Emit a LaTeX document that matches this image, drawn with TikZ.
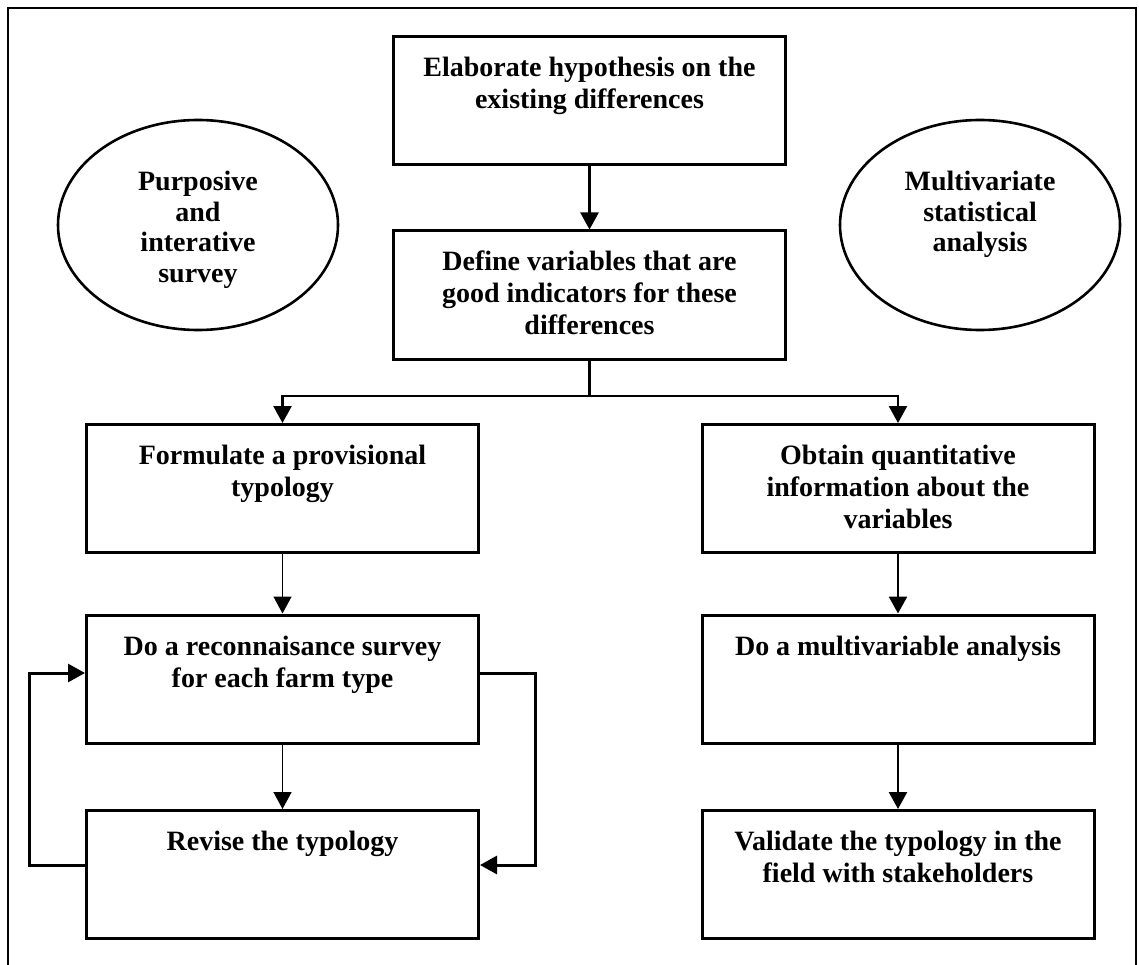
\documentclass[tikz,border=0pt]{standalone}
\usepackage{fontspec}
\setmainfont{Liberation Serif}
\usetikzlibrary{arrows.meta,shapes.geometric}
\newcommand\boxtxt[1]{\parbox[c][128pt][t]{385pt}{\centering\fontsize{28}{32}\selectfont\bfseries\rule{0pt}{40pt}#1}}
\begin{document}
\begin{tikzpicture}[x=1pt,y=-1pt,
  stepbox/.style={draw,line width=3pt,minimum width=392pt,minimum height=128pt,inner sep=0pt},
  ell/.style={draw,ellipse,line width=2.6pt,minimum width=280pt,minimum height=210pt,inner sep=0pt},
  etext/.style={anchor=north,align=center,inner sep=0pt,font=\fontsize{28}{30.5}\selectfont\bfseries},
  thickarr/.style={line width=2.6pt,-{Triangle[width=18pt,length=17pt]}},
  thinarr/.style={line width=1.5pt,-{Triangle[width=18pt,length=17pt]}},
  loop/.style={line width=3pt,-{Triangle[width=18pt,length=17pt]}},
  frame/.style={line width=1.5pt}]
\useasboundingbox (0,0) rectangle (1139,965);
\draw[frame] (8,985) -- (8,8) -- (1136,8) -- (1136,985);

\node[stepbox] (b1) at (589.5,100.5) {\boxtxt{Elaborate hypothesis on the\\existing differences}};
\node[stepbox] (b2) at (589.5,295) {\boxtxt{Define variables that are\\good indicators for these\\differences}};
\node[stepbox] (b3) at (282.5,488.5) {\boxtxt{Formulate a provisional\\typology}};
\node[stepbox] (b4) at (282.5,679) {\boxtxt{Do a reconnaisance survey\\for each farm type}};
\node[stepbox] (b5) at (282.5,874.5) {\boxtxt{Revise the typology}};
\node[stepbox] (b6) at (898,488.5) {\boxtxt{Obtain quantitative\\information about the\\variables}};
\node[stepbox] (b7) at (898,679) {\boxtxt{Do a multivariable analysis}};
\node[stepbox] (b8) at (898,874.5) {\boxtxt{Validate the typology in the\\field with stakeholders}};

\node[ell] (e1) at (198,225) {};
\node[etext] (e1t) at (198,171) {Purposive\\and\\interative\\survey};
\node[ell] (e2) at (980,225) {};
\node[etext] (e2t) at (980,171) {Multivariate\\statistical\\analysis};

\draw[thickarr] (b1) -- (b2);
\coordinate (br) at (589.5,396);
\draw[line width=2.6pt] (b2.south) -- (br);
\draw[thickarr] (br) -| (b3.north);
\draw[thickarr] (br) -| (b6.north);
\draw[thinarr] (b3) -- (b4);
\draw[thinarr] (b4) -- (b5);
\draw[loop] ([yshift=9.5pt]b5.west) -- ++(-56,0) |- ([yshift=6pt]b4.west);
\draw[loop] ([yshift=6pt]b4.east) -- ++(55,0) |- ([yshift=9.5pt]b5.east);
\draw[thickarr] (b6) -- (b7);
\draw[thickarr] (b7) -- (b8);
\end{tikzpicture}
\end{document}
